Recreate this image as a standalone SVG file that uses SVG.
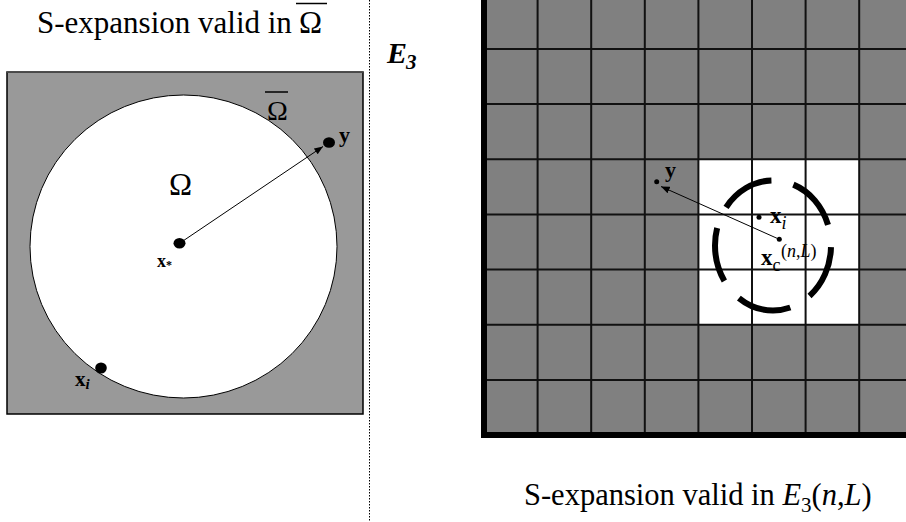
<svg xmlns="http://www.w3.org/2000/svg" width="906" height="522" viewBox="0 0 906 522">
<style>
text{font-family:"Liberation Serif","Times New Roman",serif;fill:#000}
.b{font-weight:bold}
.i{font-style:italic}
.gl{stroke:#111;stroke-width:2;fill:none}
.dot{fill:#000}
.conn{stroke:#000;stroke-width:1;fill:none}
</style>
<defs>
<marker id="ah" viewBox="0 0 10 8" refX="10" refY="4" markerWidth="9" markerHeight="7" markerUnits="userSpaceOnUse" orient="auto">
<path d="M0,0 L10,4 L0,8 Z" fill="#000"/>
</marker>
</defs>
<rect width="906" height="522" fill="#fff"/>

<g id="title-left">
<text x="37" y="33" font-size="31">S-expansion valid in</text>
<text x="299" y="33" font-size="31">Ω</text>
<line x1="296" y1="3.5" x2="327" y2="3.5" stroke="#000" stroke-width="1.5"/>
</g>

<g id="domain-left">
<rect x="7" y="72" width="356" height="342" fill="#999999" stroke="#000" stroke-width="1.5"/>
<line x1="7" y1="72" x2="363" y2="72" stroke="#555" stroke-width="1.5"/>
<ellipse cx="183.5" cy="246.5" rx="153.5" ry="151.5" fill="#fff" stroke="#000" stroke-width="1"/>
<text x="169" y="195" font-size="31">Ω</text>
<text x="267" y="120" font-size="28">Ω</text>
<line x1="265" y1="92" x2="288" y2="92" stroke="#000" stroke-width="1.5"/>
</g>

<g id="point-xstar">
<ellipse cx="179.5" cy="243.3" rx="6" ry="5.3" class="dot"/>
<text x="157" y="267" font-size="18" class="b">x<tspan font-size="12" dy="2">*</tspan></text>
</g>
<g id="point-y-left">
<ellipse cx="329" cy="142.5" rx="6" ry="5.3" class="dot"/>
<text x="339" y="142" font-size="22" class="b">y</text>
</g>
<g id="point-xi-left">
<ellipse cx="101" cy="368" rx="5.8" ry="5.5" class="dot"/>
<text x="75" y="386" font-size="21" class="b">x<tspan font-size="15" class="i" dy="3">i</tspan></text>
</g>

<line id="divider" x1="369.5" y1="0" x2="369.5" y2="522" stroke="#000" stroke-width="1" stroke-dasharray="1.5 1.5"/>

<g id="label-e3">
<text x="387" y="63" font-size="30" class="b i">E<tspan font-size="21" dx="-1" dy="6">3</tspan></text>
</g>

<g id="grid">
<rect x="484" y="-6" width="430" height="441" fill="#808080"/>
<rect x="698.4" y="159.3" width="160.8" height="165.4" fill="#fff"/>
<path class="gl" d="M537.6,0V435M591.2,0V435M644.8,0V435M698.4,0V435M752,0V435M805.6,0V435M859.2,0V435
M484,49H906M484,104.1H906M484,159.3H906M484,214.4H906M484,269.6H906M484,324.7H906M484,379.9H906"/>
<path d="M484,0V435H906" fill="none" stroke="#000" stroke-width="6"/>
</g>

<g id="dashed-circle">
<path d="M831,245.5 A58,65 0 1 1 715,245.5 A58,65 0 1 1 831,245.5" pathLength="360" fill="none" stroke="#000" stroke-width="6" stroke-dasharray="51 21" stroke-dashoffset="-1.5"/>
</g>

<g id="point-y-right">
<circle cx="656.7" cy="181.7" r="2.5" class="dot"/>
<text x="665" y="177" font-size="22" class="b">y</text>
</g>
<g id="point-xi-right">
<circle cx="759" cy="217.3" r="2.5" class="dot"/>
<text x="770" y="223" font-size="23" class="b">x<tspan font-size="18" class="i" font-weight="normal" dy="6">i</tspan></text>
</g>
<g id="point-xc">
<circle cx="779.3" cy="239.3" r="2.5" class="dot"/>
<text x="761" y="265" font-size="23" class="b">x<tspan font-size="18" font-weight="normal" dy="6">c</tspan></text>
<text x="781" y="257" font-size="18">(<tspan class="i">n</tspan>,<tspan class="i">L</tspan>)</text>
</g>

<g id="connectors">
<line class="conn" x1="179.5" y1="243.3" x2="323" y2="146.5" marker-end="url(#ah)"/>
<line class="conn" x1="779.3" y1="239.3" x2="661" y2="186.5" marker-end="url(#ah)"/>
</g>

<g id="title-right">
<text x="524" y="505" font-size="30.5">S-expansion valid in <tspan class="i">E</tspan><tspan font-size="21" dy="7">3</tspan><tspan dy="-7">(</tspan><tspan class="i">n</tspan>,<tspan class="i">L</tspan>)</text>
</g>
</svg>
